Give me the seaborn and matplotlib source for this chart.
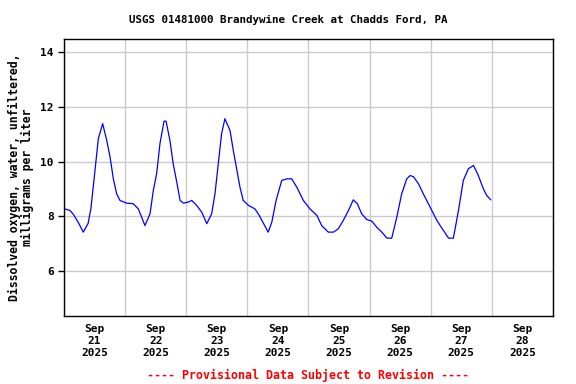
import pandas as pd
import matplotlib
matplotlib.use("Agg")
import matplotlib.pyplot as plt
import matplotlib.dates as mdates
import seaborn as sns

# ── Data ─────────────────────────────────────────────────
START = "2025-09-21 00:00"
HOURS = [0.0, 2.4, 3.7, 5.6, 7.6, 9.5, 10.6, 11.5, 12.6, 13.5, 15.2, 16.8, 18.1,
         19.4, 20.7, 22.0, 24.6, 27.2, 29.2, 30.5, 31.8, 32.7, 33.8, 35.1, 36.4,
         37.7, 39.3, 40.1, 41.6, 42.9, 44.3, 45.6, 46.9, 48.8, 50.2, 52.1, 54.1,
         56.1, 58.0, 59.3, 60.6, 61.9, 63.2, 65.2, 66.5, 67.8, 69.1, 70.4, 72.4,
         75.0, 76.7, 77.7, 80.2, 81.6, 83.3, 85.5, 87.5, 89.4, 91.4, 94.0, 96.6,
         99.3, 101.2, 103.8, 105.8, 107.7, 109.7, 111.7, 113.6, 115.2, 116.9,
         118.9, 120.9, 122.8, 124.8, 126.8, 128.7, 130.7, 132.6, 134.6, 135.9,
         137.2, 139.2, 141.1, 143.8, 146.4, 149.0, 151.0, 152.9, 154.9, 156.8,
         158.8, 160.8, 162.7, 164.7, 166.0, 167.6]
DO_MGL = [8.28, 8.21, 8.07, 7.78, 7.42, 7.74, 8.29, 9.07, 10.04, 10.84, 11.39, 10.78, 10.17,
          9.37, 8.82, 8.58, 8.48, 8.46, 8.27, 7.97, 7.66, 7.85, 8.09, 8.95, 9.56,
          10.66, 11.48, 11.48, 10.78, 9.92, 9.25, 8.58, 8.48, 8.52, 8.58, 8.40, 8.15,
          7.73, 8.09, 8.82, 9.92, 11.02, 11.57, 11.14, 10.41, 9.74, 9.07, 8.58, 8.40,
          8.27, 8.03, 7.85, 7.42, 7.78, 8.58, 9.31, 9.37, 9.37, 9.07, 8.58, 8.27,
          8.03, 7.66, 7.42, 7.42, 7.54, 7.85, 8.21, 8.60, 8.46, 8.09,
          7.88, 7.82, 7.60, 7.42, 7.20, 7.20, 7.97, 8.82, 9.37, 9.49,
          9.45, 9.19, 8.82, 8.33, 7.85, 7.48, 7.20, 7.20, 8.21, 9.31,
          9.74, 9.86, 9.49, 9.00, 8.76, 8.60]
Y_TICKS = [6, 8, 10, 12, 14]

df = pd.DataFrame({"time": pd.Timestamp(START) + pd.to_timedelta(HOURS, unit="h"),
                   "do": DO_MGL})

# ── Style ────────────────────────────────────────────────
sns.set_style("white")
plt.rcParams["font.family"] = ["DejaVu Sans Mono"]
plt.rcParams["font.weight"] = "bold"
plt.rcParams["text.color"] = "black"
plt.rcParams["xtick.color"] = "black"
plt.rcParams["ytick.color"] = "black"
plt.rcParams["axes.labelcolor"] = "black"

fig = plt.figure(figsize=(5.76, 3.84), dpi=100)
ax = fig.add_axes([0.111, 0.177, 0.849, 0.721])

sns.lineplot(data=df, x="time", y="do", ax=ax, color="#0000ff", linewidth=0.9)

ax.set_xlim(pd.Timestamp("2025-09-21"), pd.Timestamp("2025-09-29"))
ax.set_ylim(4.35, 14.48)
ax.set_yticks(Y_TICKS)

ax.xaxis.set_major_locator(mdates.DayLocator())
ax.xaxis.set_major_formatter(plt.NullFormatter())
ax.xaxis.set_minor_locator(mdates.HourLocator(byhour=[12]))
ax.xaxis.set_minor_formatter(mdates.DateFormatter("%b\n%d\n%Y"))
ax.tick_params(axis="x", which="both", length=0, pad=6)
ax.tick_params(axis="x", which="minor", labelsize=8)
ax.tick_params(axis="y", length=4, width=1, labelsize=8, direction="out", left=True)

ax.grid(True, which="major", color="#cccccc", linewidth=1)
for s in ax.spines.values():
    s.set_color("black"); s.set_linewidth(1)

ax.set_xlabel("")
ax.set_ylabel("Dissolved oxygen, water, unfiltered,\nmilligrams per liter",
              fontsize=8.3, fontweight="bold", linespacing=1.0, labelpad=4)

fig.text(0.5, 0.948, "USGS 01481000 Brandywine Creek at Chadds Ford, PA",
         ha="center", va="center", fontsize=7.8, fontweight="bold")
fig.text(0.535, 0.023, "---- Provisional Data Subject to Revision ----",
         ha="center", va="center", fontsize=8.4, fontweight="bold", color="red")

fig.savefig("out.png", dpi=100)
